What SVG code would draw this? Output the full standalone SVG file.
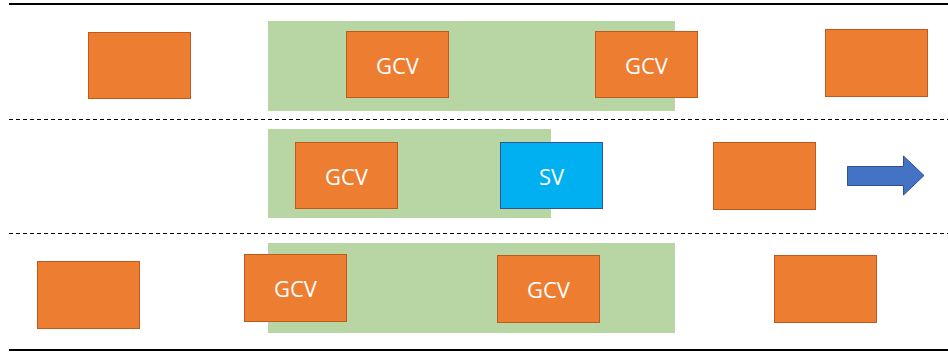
<svg xmlns="http://www.w3.org/2000/svg" width="948" height="354" viewBox="0 0 948 354">
  <style>
    .lane { stroke: #000; stroke-width: 1; stroke-dasharray: 4 3; fill: none; }
    .edge { stroke: #000; stroke-width: 2; fill: none; }
    .zone { fill: #B8D6A4; }
    .car { fill: #ED7D31; stroke: #C05A1C; stroke-width: 1; }
    .sv { fill: #00B0F0; stroke: #2F5597; stroke-width: 1; }
    .lbl { font-family: "Open Sans", "Liberation Sans", sans-serif; font-size: 22px; fill: #fff; text-anchor: middle; dominant-baseline: central; }
  </style>
  <rect width="948" height="354" fill="#fff"/>

  <!-- road edges and lane markings -->
  <g id="road">
    <line class="edge" x1="9" y1="4" x2="948" y2="4"/>
    <line class="lane" x1="9" y1="119.5" x2="948" y2="119.5"/>
    <line class="lane" x1="9" y1="233.5" x2="948" y2="233.5"/>
    <line class="edge" x1="9" y1="350" x2="948" y2="350"/>
  </g>

  <!-- cooperative zones -->
  <g id="zones">
    <rect class="zone" x="268" y="21" width="407" height="90"/>
    <rect class="zone" x="268" y="129" width="283" height="89"/>
    <rect class="zone" x="268" y="243" width="407" height="90"/>
  </g>

  <!-- lane 1 -->
  <g id="car-l1-a"><rect class="car" x="88.5" y="32.5" width="102" height="66"/></g>
  <g id="gcv-l1-a"><rect class="car" x="346.5" y="31.5" width="102" height="66"/><text class="lbl" x="397.5" y="64.5">GCV</text></g>
  <g id="gcv-l1-b"><rect class="car" x="595.5" y="31.5" width="102" height="66"/><text class="lbl" x="646.5" y="64.5">GCV</text></g>
  <g id="car-l1-b"><rect class="car" x="825.5" y="29.5" width="102" height="67"/></g>

  <!-- lane 2 -->
  <g id="gcv-l2-a"><rect class="car" x="295.5" y="142.5" width="102" height="66"/><text class="lbl" x="346.5" y="175.5">GCV</text></g>
  <g id="sv"><rect class="sv" x="500.5" y="142.5" width="102" height="66"/><text class="lbl" x="551.5" y="175.5">SV</text></g>
  <g id="car-l2-a"><rect class="car" x="713.5" y="142.5" width="102" height="67"/></g>

  <!-- lane 3 -->
  <g id="car-l3-a"><rect class="car" x="37.5" y="261.5" width="102" height="67"/></g>
  <g id="gcv-l3-a"><rect class="car" x="244.5" y="254.5" width="102" height="67"/><text class="lbl" x="295.5" y="288">GCV</text></g>
  <g id="gcv-l3-b"><rect class="car" x="497.5" y="255.5" width="102" height="67"/><text class="lbl" x="548.5" y="289">GCV</text></g>
  <g id="car-l3-b"><rect class="car" x="774.5" y="255.5" width="102" height="67"/></g>

  <!-- driving direction -->
  <g id="connectors">
    <path d="M847.5,166.5 H903.5 V156 L924,175.5 L903.5,195 V185.5 H847.5 Z" fill="#4472C4" stroke="#2F528F" stroke-width="1"/>
  </g>
</svg>
